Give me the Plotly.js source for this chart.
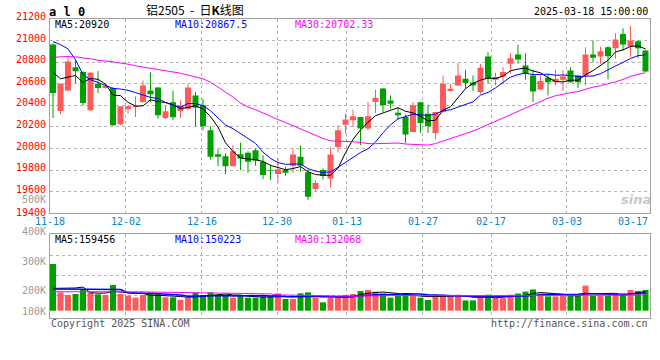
<!DOCTYPE html>
<html><head><meta charset="utf-8">
<script src="https://cdn.plot.ly/plotly-3.0.1.min.js"></script>
<style>html,body{margin:0;padding:0;background:#fff}#chart{width:660px;height:360px}</style>
</head><body><div id="chart"></div>
<script>
// ---------- data ----------
const dates = ['11-18','11-19','11-20','11-21','11-22','11-25','11-26','11-27','11-28','11-29',
'12-02','12-03','12-04','12-05','12-06','12-09','12-10','12-11','12-12','12-13','12-16','12-17','12-18','12-19','12-20','12-23','12-24','12-25','12-26','12-27','12-30','12-31',
'01-02','01-03','01-06','01-07','01-08','01-09','01-10','01-13','01-14','01-15','01-16','01-17','01-20','01-21','01-22','01-23','01-24','01-27',
'02-05','02-06','02-07','02-10','02-11','02-12','02-13','02-14','02-17','02-18','02-19','02-20','02-21','02-24','02-25','02-26','02-27','02-28',
'03-03','03-04','03-05','03-06','03-07','03-10','03-11','03-12','03-13','03-14','03-17','03-18'];

const openP = [20963,20348,20538,20754,20708,20354,20600,20560,20560,20225,
20366,20385,20431,20538,20566,20283,20428,20348,20366,20492,
20400,20169,19948,19929,19837,19948,19960,19985,19877,19800,
19763,19800,19840,19923,19781,19625,19800,19723,20015,20221,
20262,20292,20185,20431,20557,20446,20332,20292,20154,20428,
20323,20145,20338,20532,20585,20646,20612,20523,20852,20637,
20668,20785,20871,20769,20677,20548,20655,20615,20637,20723,
20677,20677,20871,20852,20938,20929,21062,20945,20994,20908];
const highP = [20975,20600,20846,20815,20715,20708,20717,20590,20569,20391,
20400,20483,20631,20708,20570,20400,20538,20446,20594,20523,
20462,20206,19994,19954,20031,20055,19975,20000,19938,19850,
19911,19831,20000,20028,19809,19708,19815,20015,20215,20323,
20360,20292,20431,20545,20560,20492,20378,20314,20431,20430,
20406,20340,20677,20600,20791,20729,20677,20785,20892,20702,
20754,20883,20963,20883,20729,20677,20692,20729,20729,20754,
20680,20938,21000,20945,20948,21068,21114,21138,21006,20914];
const lowP = [20283,20317,20530,20606,20400,20348,20514,20554,20210,20215,
20323,20292,20422,20431,20277,20274,20262,20283,20354,20206,
20169,19898,19837,19763,19835,19800,19775,19840,19717,19708,
19686,19748,19775,19785,19523,19606,19714,19637,19963,20138,
20200,20031,20169,20329,20338,20369,20268,20052,20150,20145,
20145,20083,20335,20530,20580,20554,20532,20508,20600,20585,
20594,20692,20785,20637,20431,20538,20492,20585,20532,20609,
20560,20585,20800,20785,20640,20831,20908,20846,20840,20708];
const closeP = [20514,20600,20806,20717,20422,20702,20560,20582,20215,20391,
20391,20391,20585,20502,20308,20345,20289,20400,20566,20378,
20206,19923,19923,19837,19975,19908,19877,19886,19754,19794,
19809,19775,19945,19840,19554,19680,19745,19945,20169,20268,
20298,20185,20298,20471,20400,20415,20308,20129,20400,20237,
20206,20338,20600,20554,20677,20606,20585,20748,20646,20662,
20708,20837,20825,20692,20529,20625,20615,20646,20668,20615,
20615,20871,20840,20902,20855,21009,20963,21000,20929,20714];

const ma5 = [20708,20646,20662,20677,20612,20649,20641,20597,20496,20490,
20428,20394,20395,20452,20435,20426,20406,20369,20382,20396,
20368,20295,20199,20053,19973,19913,19904,19897,19880,19844,
19824,19804,19815,19833,19785,19759,19753,19753,19819,19961,
20085,20173,20244,20304,20330,20354,20378,20345,20330,20298,
20256,20262,20356,20387,20475,20555,20604,20634,20652,20649,
20670,20720,20736,20745,20718,20702,20657,20621,20617,20634,
20632,20683,20722,20769,20817,20895,20914,20946,20951,20923];
const ma10 = [20991,20963,20923,20822,20686,20637,20612,20588,20557,20551,
20539,20518,20496,20474,20463,20427,20400,20382,20417,20416,
20397,20350,20284,20218,20184,20141,20099,20048,19967,19908,
19869,19854,19856,19856,19814,19791,19778,19784,19826,19873,
19922,19963,19998,20061,20146,20219,20276,20294,20317,20314,
20305,20320,20350,20359,20386,20406,20433,20495,20520,20562,
20612,20662,20685,20699,20684,20686,20689,20679,20681,20676,
20667,20670,20672,20693,20725,20764,20798,20834,20860,20868];
const ma30 = [20846,20852,20852,20849,20843,20831,20818,20812,20803,20791,
20782,20766,20754,20745,20732,20723,20711,20698,20680,20665,
20646,20615,20569,20523,20477,20422,20385,20360,20329,20292,
20268,20241,20212,20183,20154,20120,20093,20071,20070,20066,
20063,20056,20046,20045,20048,20050,20051,20042,20037,20032,
20032,20046,20068,20092,20116,20139,20162,20191,20221,20250,
20280,20315,20345,20373,20405,20437,20466,20489,20506,20517,
20528,20551,20569,20583,20599,20618,20640,20669,20687,20702];

const volume = [390900,153700,131400,139800,173300,153700,137000,131400,215100,139800,
125800,109100,131400,139800,139800,111900,111900,89600,109100,153700,
131400,153700,131400,131400,109100,125800,109100,109100,117500,117500,
145400,97900,97900,145400,153700,109100,70000,117500,123000,131400,
139800,164900,173300,159300,145400,109100,123000,148100,123000,109100,
89600,134000,134000,128000,134000,86000,86000,128000,134000,105000,
105000,134000,144000,160000,178000,144000,120000,120000,125800,125800,
125800,209500,125800,125800,125800,139800,145400,173300,164900,173300];
const vma5 = [187000,187000,188000,190000,197800,150400,147000,147000,162100,155400,
149800,144200,144200,129200,129200,126400,127000,118600,112500,115200,
119100,127500,135900,140300,131400,130300,121400,116900,114100,115800,
119700,117500,115200,120800,128100,120800,115200,119100,114700,110200,
116300,135300,146500,153700,156500,150400,142000,137000,129700,122500,
117700,120900,119300,120900,127000,124000,113600,112000,114000,107600,
111400,121200,124400,129400,144200,152000,149200,144400,137600,127100,
123700,141100,141500,141500,142500,145300,132500,142000,149800,159456];
const vma10 = [182000,182000,181000,181000,180000,179000,178000,177000,177000,176600,
150100,145600,145600,145600,142300,138100,135600,131400,120800,122200,
122800,127200,127200,126400,123300,124700,124400,126400,127200,123600,
125000,119400,116100,117500,121900,120300,116400,117200,117700,119100,
118600,125300,132800,134200,133400,133400,138700,141700,141700,139500,
134500,131700,128000,124800,124300,121800,118500,116300,117700,117700,
119300,119300,120100,123300,127700,133700,137100,136300,134800,136300,
137600,144500,142500,138600,133000,132200,134500,139500,143700,150223];
const vma30 = [159000,159000,159000,159000,160000,160000,161000,162000,164000,162000,
160000,159000,158000,156000,155000,154000,153000,152000,150000,149000,
148000,147000,146000,145000,144000,143000,142000,142000,141000,140800,
132600,130800,129600,129800,129200,127700,125500,125000,121900,121600,
122100,124000,125400,126000,126200,126100,126500,128400,128900,127400,
125900,125400,125600,125400,126400,125000,124200,124700,125400,125000,
123700,124600,125900,126200,126700,127900,129600,129900,130000,129800,
129500,131000,129400,128300,127600,128600,129300,130200,131500,132068];

const xTickLabels = ['11-18','12-02','12-16','12-30','01-13','01-27','02-17','03-03','03-17'];
const priceTicks = [19400,19600,19800,20000,20200,20400,20600,20800,21000,21200];
const volTickLabels = ['500K','400K','300K','200K','100K'];
const legendMain = ['MA5:20920','MA10:20867.5','MA30:20702.33'];
const legendVol = ['MA5:159456','MA10:150223','MA30:132068'];

// ---------- styling / layout ----------
const W = 660, H = 360;
const UP = '#ff5a5a', DOWN = '#00a000';
const MONO = '"DejaVu Sans Mono", monospace';
const px = x => x / W, py = y => 1 - y / H;
const idx = dates.map((d, i) => i);
const isUp = idx.map(i => closeP[i] >= openP[i]);
const col = isUp.map(u => u ? UP : DOWN);

function wick(up) {
  const xs = [], ys = [];
  idx.forEach(i => { if (isUp[i] === up) { xs.push(i, i, null); ys.push(lowP[i], highP[i], null); } });
  return {type:'scatter', mode:'lines', x:xs, y:ys, xaxis:'x', yaxis:'y',
          line:{color: up ? UP : DOWN, width:1}, hoverinfo:'skip'};
}
const body = {type:'bar', x:idx, xaxis:'x', yaxis:'y',
  base: idx.map(i => Math.min(openP[i], closeP[i])),
  y: idx.map(i => Math.max(Math.abs(closeP[i] - openP[i]), 8)),
  width:0.8, marker:{color:col, line:{width:0}}, hoverinfo:'skip'};
const line = (y, c, xa, ya, w) => ({type:'scatter', mode:'lines', x:idx, y:y, xaxis:xa, yaxis:ya,
  line:{color:c, width:w || 1}, hoverinfo:'skip'});
const volBars = {type:'bar', x:idx, y:volume, xaxis:'x2', yaxis:'y2', width:0.8,
  marker:{color:col, line:{width:0}}, hoverinfo:'skip'};

// gridline pixel positions of the date labels
const gridPx = [125.7, 201.7, 277.3, 346.7, 422.5, 491, 566.7];
const labelPx = [49.5, 125.7, 201.7, 277.3, 346.7, 422.5, 491, 566.7, 633];
const toIdx = p => (p - 53) / 7.5;

const commonX = {domain:[px(50), px(650)], range:[-0.4, 79.6], showticklabels:false, ticks:'',
  tickvals: gridPx.map(toIdx), showgrid:true, gridcolor:'#b4b4b4', griddash:'dot', gridwidth:1,
  showline:true, mirror:true, linecolor:'#a0a0a0', linewidth:1, zeroline:false, fixedrange:true};
const layout = {
  width:W, height:H, margin:{l:0,r:0,t:0,b:0}, paper_bgcolor:'#fff', plot_bgcolor:'#fff',
  showlegend:false, hovermode:false,
  xaxis: Object.assign({}, commonX, {anchor:'y'}),
  xaxis2: Object.assign({}, commonX, {anchor:'y2'}),
  yaxis: {domain:[py(213.3), py(19)], range:[19400, 21200], tickvals:priceTicks.slice(1, -1),
    showticklabels:false, ticks:'', showgrid:true, gridcolor:'#b4b4b4', griddash:'dot',
    showline:true, mirror:true, linecolor:'#a0a0a0', zeroline:false, anchor:'x'},
  yaxis2: {domain:[py(318), py(234.3)], range:[-61100, 639500], tickvals:[466200, 298800, 131400],
    showticklabels:false, ticks:'', showgrid:true, gridcolor:'#b4b4b4', griddash:'dot',
    showline:true, mirror:true, linecolor:'#a0a0a0', zeroline:false, anchor:'x2'},
  annotations: []
};
const A = layout.annotations;
function ann(text, x, y, o) {
  A.push(Object.assign({text:text, xref:'paper', yref:'paper', x:px(x), y:py(y), showarrow:false,
    xanchor:'left', yanchor:'middle', borderpad:0, font:{family:MONO, size:10, color:'#000'}}, o || {}));
}
// titles
ann('铝2505\u00a0\u00a0-\u00a0\u00a0日<b>K</b>线图', 195, 9, {xanchor:'center', font:{family:'"Noto Sans CJK SC", sans-serif', size:12, color:'#000'}});
ann('<b>a l 0</b>', 48, 11.5, {font:{family:MONO, size:12, color:'#000'}});
ann('2025-03-18 15:00:00', 649, 11.5, {xanchor:'right'});
// legends
ann(legendMain[0], 54, 24.5, {font:{family:MONO, size:10, color:'#000'}});
ann(legendMain[1], 174, 24.5, {font:{family:MONO, size:10, color:'#0000ff'}});
ann(legendMain[2], 294, 24.5, {font:{family:MONO, size:10, color:'#ff00ff'}});
ann(legendVol[0], 54, 239, {font:{family:MONO, size:10, color:'#000'}});
ann(legendVol[1], 174, 239, {font:{family:MONO, size:10, color:'#0000ff'}});
ann(legendVol[2], 294, 239, {font:{family:MONO, size:10, color:'#ff00ff'}});
// price labels
priceTicks.forEach(v => A.push({text:String(v), xref:'paper', yref:'y', x:px(46.5), y:v,
  yshift: v === priceTicks[0] ? 0.5 : 2.5,
  showarrow:false, xanchor:'right', yanchor:'middle', borderpad:0, font:{family:MONO, size:10, color:'#ff0000'}}));
// volume labels
const volLabelY = [199.5, 231.5, 261, 290.5, 311.5];
volTickLabels.forEach((t, k) => ann(t, 46.5, volLabelY[k], {xanchor:'right', font:{family:MONO, size:10, color:'#9a9a9a'}}));
// date labels
xTickLabels.forEach((t, k) => ann(t, labelPx[k], 221.7, {xanchor:'center', font:{family:MONO, size:10, color:'#0a84c8'}}));
// footer
ann('Copyright 2025 SINA.COM', 50, 323.5, {font:{family:MONO, size:10, color:'#555'}});
ann('http://finance.sina.com.cn', 649, 323.5, {xanchor:'right', font:{family:MONO, size:10, color:'#555'}});
ann('<i><b>sina</b></i>', 636, 199, {xanchor:'center', font:{family:'"DejaVu Sans", sans-serif', size:13, color:'#c8c8c8'}});

const data = [body, wick(true), wick(false),
  line(ma5, '#000000', 'x', 'y'), line(ma10, '#0000ff', 'x', 'y'), line(ma30, '#ff00ff', 'x', 'y'),
  volBars, line(vma5, '#000000', 'x2', 'y2'), line(vma10, '#0000ff', 'x2', 'y2', 1.5), line(vma30, '#ff00ff', 'x2', 'y2')];
Plotly.newPlot('chart', data, layout, {staticPlot:true, displayModeBar:false});
</script></body></html>
